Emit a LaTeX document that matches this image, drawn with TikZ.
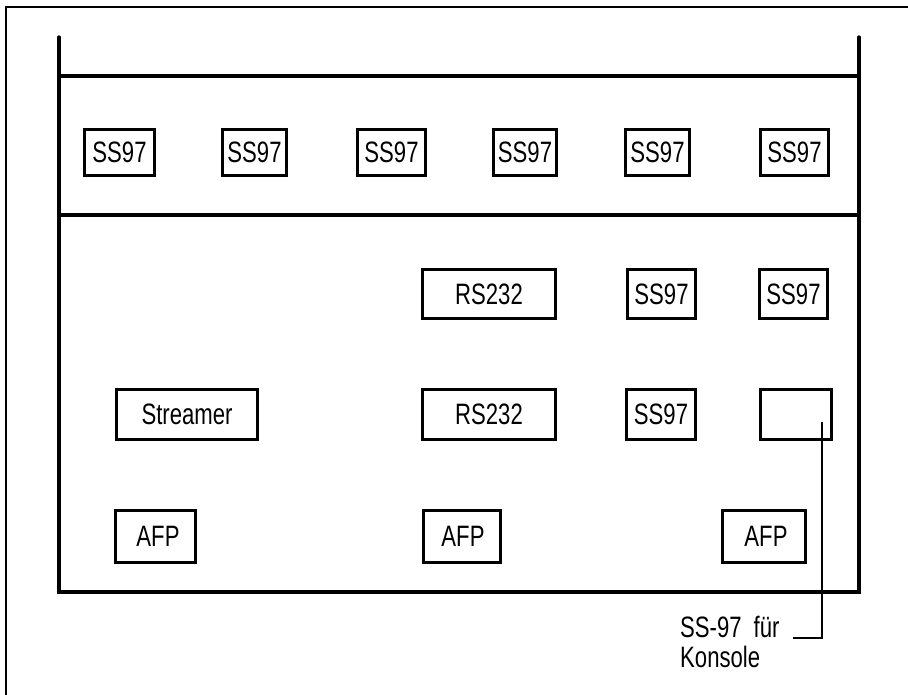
\documentclass[tikz,border=0pt]{standalone}
\usepackage{fontspec}
\setmainfont{Liberation Sans}[FakeStretch=0.75]
\begin{document}
\begin{tikzpicture}[x=1pt,y=-1pt,
  box/.style={draw, line width=3.2pt, rectangle, inner sep=0pt, outer sep=0pt,
    font=\fontsize{29.5}{35}\selectfont, align=center},
  wall/.style={line width=3.2pt, line cap=round},
  frame/.style={line width=1.4pt},
  leader/.style={line width=1.1pt},
  lbl/.style={font=\fontsize{29.5}{35}\selectfont, inner sep=0pt, anchor=base west}]
\useasboundingbox (0,0) rectangle (908,695);
% outer frame
\draw[frame] (6,695) -- (6,7) -- (908,7);
% container
\draw[wall] (59,37) -- (59,592) -- (859,592) -- (859,37);
\draw[wall] (59,76) -- (859,76);
\draw[wall] (59,215) -- (859,215);
% top row
\node[box, minimum width=70pt, minimum height=46pt] (t1) at (119.5,152.5) {SS97};
\node[box, minimum width=64pt, minimum height=46pt] (t2) at (254.5,152.5) {SS97};
\node[box, minimum width=68pt, minimum height=46pt] (t3) at (391.5,152.5) {SS97};
\node[box, minimum width=63pt, minimum height=46pt] (t4) at (525,152.5) {SS97};
\node[box, minimum width=64pt, minimum height=46pt] (t5) at (657.5,152.5) {SS97};
\node[box, minimum width=68pt, minimum height=46pt] (t6) at (794.5,152.5) {SS97};
% row 2
\node[box, minimum width=133pt, minimum height=49pt] (r1) at (489,294) {RS232};
\node[box, minimum width=68pt, minimum height=49pt] (s1) at (661.5,294) {SS97};
\node[box, minimum width=68pt, minimum height=49pt] (s2) at (793.5,294) {SS97};
% row 3
\node[box, minimum width=141pt, minimum height=50pt] (st) at (187,414.5) {Streamer};
\node[box, minimum width=133pt, minimum height=50pt] (r2) at (489,414.5) {RS232};
\node[box, minimum width=69pt, minimum height=50pt] (s3) at (661,414.5) {SS97};
\node[box, minimum width=71pt, minimum height=50pt] (em) at (796,414.5) {};
% row 4
\node[box, minimum width=80pt, minimum height=52pt] (a1) at (155.5,536.5) {\hspace{5pt}AFP};
\node[box, minimum width=77pt, minimum height=52pt] (a2) at (462,536.5) {\hspace{2pt}AFP};
\node[box, minimum width=83pt, minimum height=52pt] (a3) at (764,536.5) {\hspace{4pt}AFP};
% label
\node[lbl] (l1) at (680,637) {SS-97\hspace{12pt}für};
\node[lbl] (l2) at (680,667) {Konsole};
\coordinate (p0) at ([xshift=26pt,yshift=-7.5pt]em.center);
\coordinate (p2) at (793,638);
\draw[leader] (p0) |- (p2);
\end{tikzpicture}
\end{document}
